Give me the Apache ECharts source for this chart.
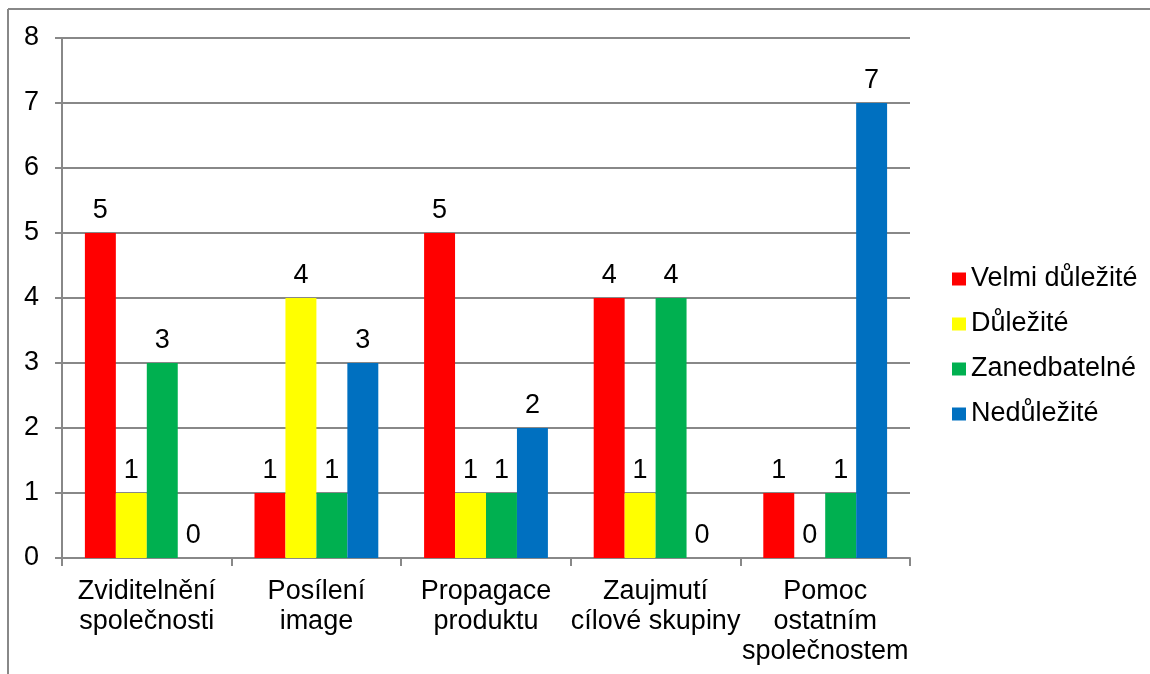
<!DOCTYPE html>
<html>
<head>
<meta charset="utf-8">
<script src="https://cdn.jsdelivr.net/npm/echarts@6/dist/echarts.min.js"></script>
<style>
  html, body { margin: 0; padding: 0; background: #fff; }
  #chart { width: 1150px; height: 674px; }
</style>
</head>
<body>
<div id="chart"></div>
<script>
// Categories (reasons) along the x axis
const categories = [
  'Zviditelnění\nspolečnosti',
  'Posílení\nimage',
  'Propagace\nproduktu',
  'Zaujmutí\ncílové skupiny',
  'Pomoc\nostatním\nspolečnostem'
];

// Number of answers for each rating
const velmiDulezite = [5, 1, 5, 4, 1];
const dulezite      = [1, 4, 1, 1, 0];
const zanedbatelne  = [3, 1, 1, 4, 1];
const nedulezite    = [0, 3, 2, 0, 7];

const seriesNames = ['Velmi důležité', 'Důležité', 'Zanedbatelné', 'Nedůležité'];
const seriesData = [velmiDulezite, dulezite, zanedbatelne, nedulezite];
const seriesColors = ['#FF0000', '#FFFF00', '#00B050', '#0070C0'];

const FONT = '"Liberation Sans", Arial, sans-serif';
const FONT_SIZE = 27;
const AXIS_GRAY = '#888888';

const chart = echarts.init(document.getElementById('chart'), null, { renderer: 'canvas' });

chart.setOption({
  backgroundColor: '#ffffff',
  animation: false,
  textStyle: { fontFamily: FONT, color: '#000' },
  graphic: [
    // outer frame (left and top edges)
    { type: 'line', shape: { x1: 8, y1: 9, x2: 1150, y2: 9 }, style: { stroke: AXIS_GRAY, lineWidth: 2 } },
    { type: 'line', shape: { x1: 8, y1: 9, x2: 8, y2: 674 }, style: { stroke: AXIS_GRAY, lineWidth: 2 } }
  ],
  grid: { left: 62, right: 240, top: 38, bottom: 116, containLabel: false },
  legend: {
    orient: 'vertical',
    left: 952,
    top: 264,
    padding: 0,
    itemWidth: 14,
    itemHeight: 13,
    itemGap: 15,
    icon: 'rect',
    data: seriesNames,
    textStyle: { fontFamily: FONT, fontSize: FONT_SIZE, color: '#000', lineHeight: 30 }
  },
  xAxis: {
    type: 'category',
    data: categories,
    boundaryGap: true,
    axisLine: { show: true, lineStyle: { color: AXIS_GRAY, width: 2 } },
    axisTick: { show: true, length: 8, lineStyle: { color: AXIS_GRAY, width: 2 } },
    axisLabel: { fontFamily: FONT, fontSize: FONT_SIZE, color: '#000', lineHeight: 30, margin: 19, interval: 0 }
  },
  yAxis: {
    type: 'value',
    min: 0,
    max: 8,
    interval: 1,
    axisLine: { show: true, lineStyle: { color: AXIS_GRAY, width: 2 } },
    axisTick: { show: true, length: 7, lineStyle: { color: AXIS_GRAY, width: 2 } },
    splitLine: { show: true, lineStyle: { color: AXIS_GRAY, width: 2 } },
    axisLabel: { fontFamily: FONT, fontSize: FONT_SIZE, color: '#000', margin: 23 }
  },
  series: seriesNames.map((name, i) => ({
    name: name,
    type: 'bar',
    data: seriesData[i],
    barGap: '0%',
    barCategoryGap: '27%',
    itemStyle: { color: seriesColors[i] },
    label: {
      show: true,
      position: 'top',
      distance: 9,
      fontFamily: FONT,
      fontSize: FONT_SIZE,
      color: '#000'
    }
  }))
});
</script>
</body>
</html>
